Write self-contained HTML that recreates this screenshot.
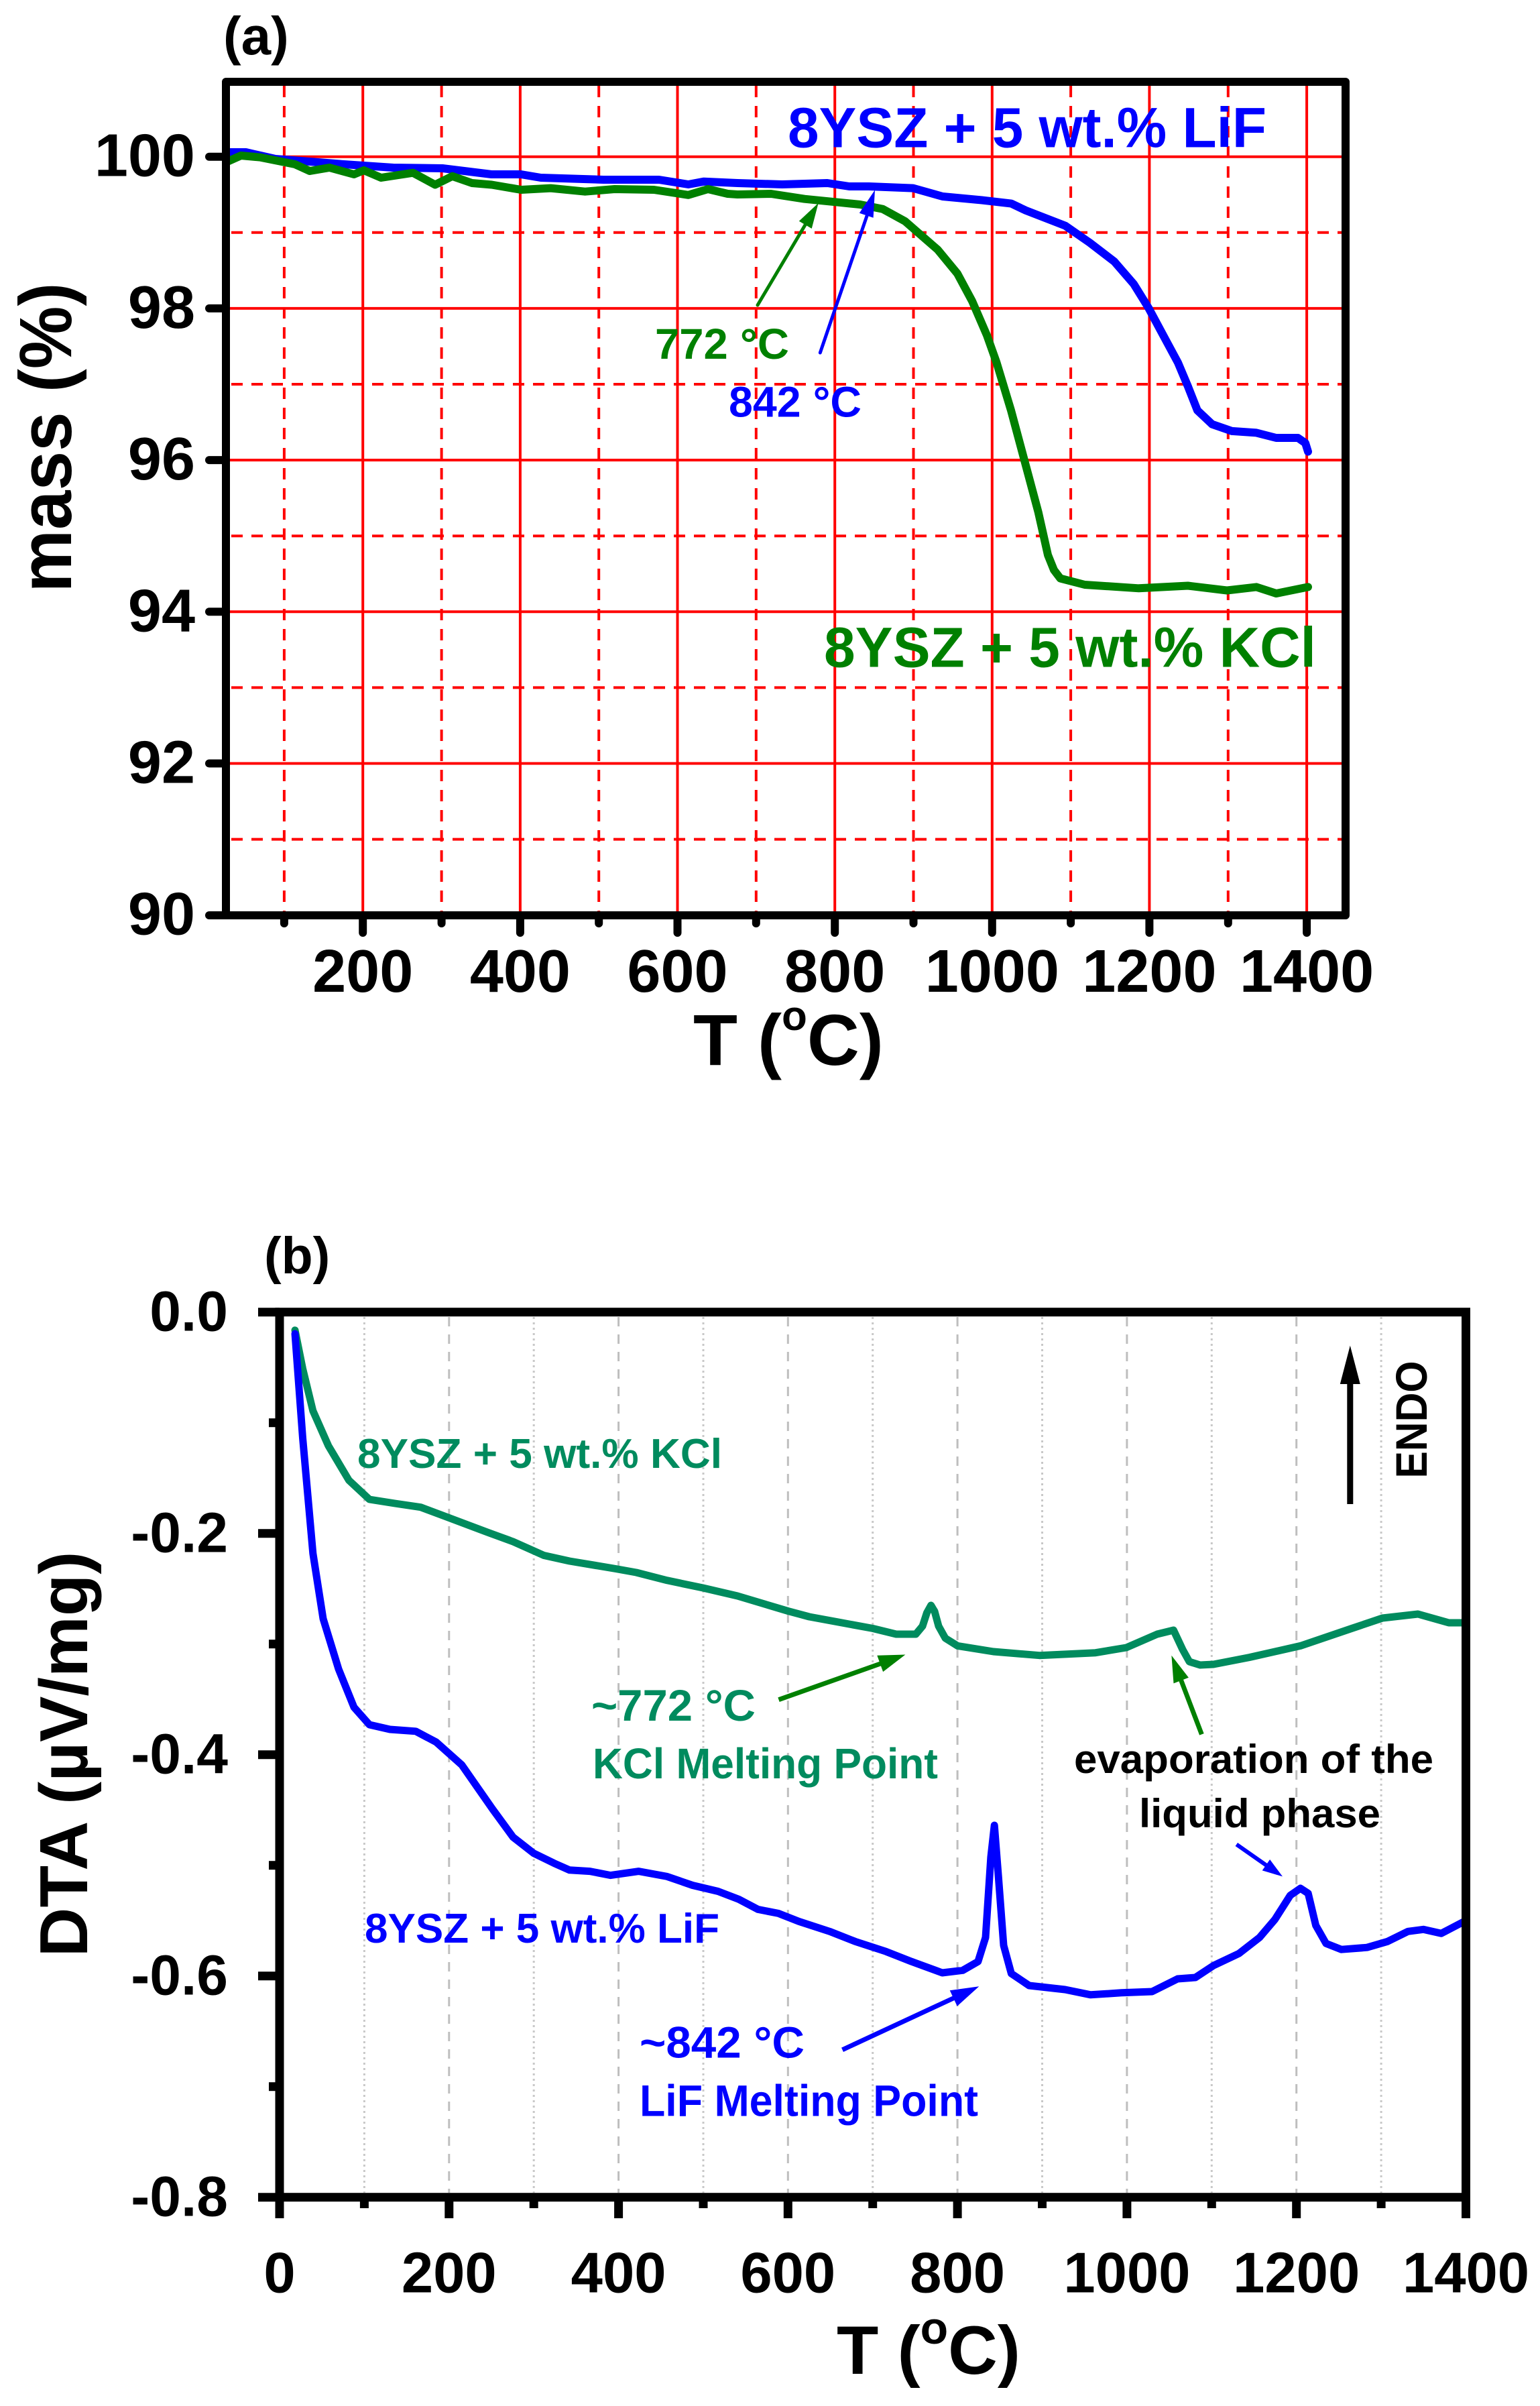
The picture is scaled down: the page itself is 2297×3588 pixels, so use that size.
<!DOCTYPE html>
<html>
<head>
<meta charset="utf-8">
<style>
html,body{margin:0;padding:0;background:#fff;}
svg{display:block;}
text{font-family:"Liberation Sans",Arial,sans-serif;font-weight:bold;}
</style>
</head>
<body>
<svg width="2297" height="3588" viewBox="0 0 2297 3588" xmlns="http://www.w3.org/2000/svg">
<rect width="2297" height="3588" fill="#fff"/>

<!-- ================= PANEL (a) ================= -->
<g stroke="#ff0000" stroke-width="4" fill="none">
  <!-- solid vertical -->
  <line x1="541.2" y1="122" x2="541.2" y2="1365"/>
  <line x1="775.9" y1="122" x2="775.9" y2="1365"/>
  <line x1="1010.5" y1="122" x2="1010.5" y2="1365"/>
  <line x1="1245.2" y1="122" x2="1245.2" y2="1365"/>
  <line x1="1479.8" y1="122" x2="1479.8" y2="1365"/>
  <line x1="1714.4" y1="122" x2="1714.4" y2="1365"/>
  <line x1="1949.1" y1="122" x2="1949.1" y2="1365"/>
  <!-- solid horizontal -->
  <line x1="337" y1="233.7" x2="2007" y2="233.7"/>
  <line x1="337" y1="459.9" x2="2007" y2="459.9"/>
  <line x1="337" y1="686.1" x2="2007" y2="686.1"/>
  <line x1="337" y1="912.3" x2="2007" y2="912.3"/>
  <line x1="337" y1="1138.5" x2="2007" y2="1138.5"/>
</g>
<g stroke="#ff0000" stroke-width="4" fill="none" stroke-dasharray="17 13">
  <line x1="423.9" y1="128" x2="423.9" y2="1365"/>
  <line x1="658.6" y1="128" x2="658.6" y2="1365"/>
  <line x1="893.2" y1="128" x2="893.2" y2="1365"/>
  <line x1="1127.8" y1="128" x2="1127.8" y2="1365"/>
  <line x1="1362.5" y1="128" x2="1362.5" y2="1365"/>
  <line x1="1597.1" y1="128" x2="1597.1" y2="1365"/>
  <line x1="1831.8" y1="128" x2="1831.8" y2="1365"/>
  <line x1="345" y1="346.8" x2="2007" y2="346.8"/>
  <line x1="345" y1="573" x2="2007" y2="573"/>
  <line x1="345" y1="799.2" x2="2007" y2="799.2"/>
  <line x1="345" y1="1025.4" x2="2007" y2="1025.4"/>
  <line x1="345" y1="1251.6" x2="2007" y2="1251.6"/>
</g>

<!-- curves a -->
<polyline fill="none" stroke="#0000ff" stroke-width="12" stroke-linejoin="round" stroke-linecap="round"
 points="337,227 366.7,227 410.7,237 513,245 586.7,250 660,251 733,260 777,260 806.7,265 900,268 983,268 1026.7,275 1050,270.7 1100,273 1166.7,275 1234,273 1266.7,278 1296,278 1362,280.6 1406,293 1464.5,298.5 1508.4,303.6 1530,313.8 1589,336.7 1625.5,362 1662,390 1691,423.5 1713,459 1735,500 1757,540.8 1772,576.5 1786,612 1808,632.7 1837.6,642.9 1874,645.4 1903.5,653 1936,653 1947,660.7 1951,673.5"/>
<polyline fill="none" stroke="#008000" stroke-width="12" stroke-linejoin="round" stroke-linecap="round"
 points="337,242 359.4,232 388.7,234.7 440,245 462,255 491.4,250 528,260 542.7,254 568.4,265 616,257.7 649,275.5 674.7,262.8 704,273 733.4,275.5 777.4,283 821.4,280.6 872.7,285.7 916.7,282 975.4,283 1026.7,290.8 1056,282 1085.4,289 1100,290 1150,289 1200,296.7 1250,301.7 1283,305 1316.7,311.7 1350,330 1369.5,347 1398.7,372.4 1428,408 1450,449 1472,500 1486.5,540.8 1508,612 1530,694 1548.7,763.8 1563,827.6 1572,850 1581.6,862.6 1618,872 1698.6,877.3 1771.8,873.5 1830,880.5 1874,875.4 1903.5,885 1951,875.4"/>

<!-- arrows a -->
<line x1="1130" y1="455" x2="1203" y2="332" stroke="#008000" stroke-width="5" stroke-linecap="round"/>
<polygon points="1220.7,302.7 1210.7,340.9 1191.8,329.7" fill="#008000"/>
<line x1="1223.3" y1="526" x2="1293" y2="322" stroke="#0000ff" stroke-width="5" stroke-linecap="round"/>
<polygon points="1305,283.3 1302.6,324.7 1281.8,317.7" fill="#0000ff"/>

<!-- frame a -->
<rect x="337" y="122" width="1670" height="1243" fill="none" stroke="#000" stroke-width="12" stroke-linejoin="round"/>
<g stroke="#000" stroke-width="12" stroke-linecap="round">
  <line x1="312" y1="233.7" x2="337" y2="233.7"/>
  <line x1="312" y1="459.9" x2="337" y2="459.9"/>
  <line x1="312" y1="686.1" x2="337" y2="686.1"/>
  <line x1="312" y1="912.3" x2="337" y2="912.3"/>
  <line x1="312" y1="1138.5" x2="337" y2="1138.5"/>
  <line x1="312" y1="1365" x2="337" y2="1365"/>
  <line x1="541.2" y1="1365" x2="541.2" y2="1391"/>
  <line x1="775.9" y1="1365" x2="775.9" y2="1391"/>
  <line x1="1010.5" y1="1365" x2="1010.5" y2="1391"/>
  <line x1="1245.2" y1="1365" x2="1245.2" y2="1391"/>
  <line x1="1479.8" y1="1365" x2="1479.8" y2="1391"/>
  <line x1="1714.4" y1="1365" x2="1714.4" y2="1391"/>
  <line x1="1949.1" y1="1365" x2="1949.1" y2="1391"/>
  <line x1="423.9" y1="1365" x2="423.9" y2="1377"/>
  <line x1="658.6" y1="1365" x2="658.6" y2="1377"/>
  <line x1="893.2" y1="1365" x2="893.2" y2="1377"/>
  <line x1="1127.8" y1="1365" x2="1127.8" y2="1377"/>
  <line x1="1362.5" y1="1365" x2="1362.5" y2="1377"/>
  <line x1="1597.1" y1="1365" x2="1597.1" y2="1377"/>
  <line x1="1831.8" y1="1365" x2="1831.8" y2="1377"/>
</g>

<!-- tick labels a -->
<g font-size="90" text-anchor="end" fill="#000">
  <text x="291" y="262.7">100</text>
  <text x="291" y="488.9">98</text>
  <text x="291" y="715.1">96</text>
  <text x="291" y="941.3">94</text>
  <text x="291" y="1167.5">92</text>
  <text x="291" y="1393.7">90</text>
</g>
<g font-size="90" text-anchor="middle" fill="#000">
  <text x="541.2" y="1479">200</text>
  <text x="775.9" y="1479">400</text>
  <text x="1010.5" y="1479">600</text>
  <text x="1245.2" y="1479">800</text>
  <text x="1479.8" y="1479">1000</text>
  <text x="1714.4" y="1479">1200</text>
  <text x="1949.1" y="1479">1400</text>
</g>
<text x="1034" y="1588" font-size="108" fill="#000">T (<tspan font-size="62" dy="-52">o</tspan><tspan dy="52">C)</tspan></text>
<text transform="translate(106,652.5) rotate(-90)" text-anchor="middle" font-size="110" textLength="462" lengthAdjust="spacingAndGlyphs" fill="#000">mass (%)</text>
<text x="333" y="81" font-size="80" fill="#000">(a)</text>

<text x="1175" y="219.4" font-size="84" fill="#0000ff" textLength="714" lengthAdjust="spacingAndGlyphs">8YSZ + 5 wt.% LiF</text>
<text x="1229" y="994.7" font-size="84" fill="#008000" textLength="734" lengthAdjust="spacingAndGlyphs">8YSZ + 5 wt.% KCl</text>
<text x="977" y="535" font-size="64" fill="#008000" textLength="200" lengthAdjust="spacingAndGlyphs">772 °C</text>
<text x="1087" y="621.7" font-size="64" fill="#0000ff" textLength="198" lengthAdjust="spacingAndGlyphs">842 °C</text>

<!-- ================= PANEL (b) ================= -->
<g stroke="#bebebe" stroke-width="3" fill="none" stroke-dasharray="14 12">
  <line x1="669.8" y1="1964" x2="669.8" y2="3270"/>
  <line x1="922.6" y1="1964" x2="922.6" y2="3270"/>
  <line x1="1175.3" y1="1964" x2="1175.3" y2="3270"/>
  <line x1="1428.1" y1="1964" x2="1428.1" y2="3270"/>
  <line x1="1680.9" y1="1964" x2="1680.9" y2="3270"/>
  <line x1="1933.7" y1="1964" x2="1933.7" y2="3270"/>
</g>
<g stroke="#c8c8c8" stroke-width="3" fill="none" stroke-dasharray="3 5">
  <line x1="543.4" y1="1964" x2="543.4" y2="3270"/>
  <line x1="796.2" y1="1964" x2="796.2" y2="3270"/>
  <line x1="1049" y1="1964" x2="1049" y2="3270"/>
  <line x1="1301.7" y1="1964" x2="1301.7" y2="3270"/>
  <line x1="1554.5" y1="1964" x2="1554.5" y2="3270"/>
  <line x1="1807.3" y1="1964" x2="1807.3" y2="3270"/>
  <line x1="2060.1" y1="1964" x2="2060.1" y2="3270"/>
</g>

<!-- curves b -->
<polyline fill="none" stroke="#008b5e" stroke-width="11" stroke-linejoin="round" stroke-linecap="round"
 points="440,1983.7 451.5,2041 466.8,2104 489.8,2156 520.4,2207.5 551,2236 589,2242 627.5,2247.7 665.8,2262 727,2285 765.3,2299 811.2,2319.5 849.5,2328 918.4,2339.5 949,2345 995,2356.8 1048.5,2368 1100,2380 1176,2402.7 1207,2411 1302,2428.5 1336.7,2437 1366,2437 1376,2425 1382.5,2405 1388.6,2394 1394,2403 1400,2425 1410,2443 1428.3,2454.4 1481.7,2463 1550.4,2468.7 1634,2464.7 1680,2457 1726,2437 1750.4,2431 1764,2460 1774,2478 1790,2483 1810,2482 1863.4,2471.6 1939.7,2454.4 2016,2428.5 2062,2413 2115,2407 2161,2420 2184,2420"/>
<polyline fill="none" stroke="#0000ff" stroke-width="11" stroke-linejoin="round" stroke-linecap="round"
 points="440,1989 451.5,2144.4 466.8,2316.6 482,2414 505,2489 528,2546 551,2572 581.6,2579 620,2581.8 650.5,2597.9 688.8,2632 734.7,2697.9 765.3,2739.7 796,2763.7 826.5,2778.6 849.5,2788.8 880,2790.6 910.7,2796.6 952.8,2790.6 995,2798.4 1033,2811.5 1071,2820.5 1102,2832.4 1130.5,2847.4 1161,2853.4 1191.6,2865.4 1237.4,2880.3 1275.6,2895.3 1321.4,2910.2 1359.6,2925.2 1405.4,2942 1436,2938.3 1458.8,2925.2 1470,2889.3 1477.9,2769.6 1483.2,2722 1489.3,2799.6 1497,2901.2 1508.4,2943.1 1535,2961 1588.6,2967 1626.7,2974.8 1672.6,2971.8 1718.4,2970 1756.5,2951 1783,2949 1810,2931.2 1848,2913.2 1878.7,2889.3 1901.6,2862.4 1924.5,2826.5 1939.7,2816 1951.2,2823.5 1962.6,2871.3 1977.9,2898.3 2000.8,2907.2 2039,2904.2 2069.5,2895.3 2100,2880.3 2123,2877.3 2149.7,2883.3 2184,2865.4"/>

<!-- arrows b -->
<line x1="1161.5" y1="2534.7" x2="1316" y2="2480" stroke="#008000" stroke-width="7"/>
<polygon points="1350.4,2467.5 1317.1,2493.1 1308.3,2468.7" fill="#008000"/>
<line x1="1792.4" y1="2586.4" x2="1761" y2="2504" stroke="#008000" stroke-width="7"/>
<polygon points="1747.4,2468.7 1772.9,2501.8 1750.5,2510.4" fill="#008000"/>
<line x1="1256.5" y1="3056.8" x2="1425" y2="2978.5" stroke="#0000ff" stroke-width="7"/>
<polygon points="1460.3,2962.3 1427.7,2991.8 1416.7,2968.2" fill="#0000ff"/>
<line x1="1844.3" y1="2750.5" x2="1890" y2="2782.5" stroke="#0000ff" stroke-width="6"/>
<polygon points="1913,2798.4 1882.7,2789.4 1894.1,2773" fill="#0000ff"/>
<!-- ENDO arrow -->
<line x1="2013.8" y1="2243" x2="2013.8" y2="2058" stroke="#000" stroke-width="9"/>
<polygon points="2013.8,2006.6 1998.8,2064 2028.8,2064" fill="#000"/>

<!-- frame b -->
<rect x="417" y="1956.7" width="1769.5" height="1320" fill="none" stroke="#000" stroke-width="13"/>
<g stroke="#000" stroke-width="13">
  <line x1="385" y1="1956.7" x2="417" y2="1956.7"/>
  <line x1="385" y1="2286.7" x2="417" y2="2286.7"/>
  <line x1="385" y1="2616.7" x2="417" y2="2616.7"/>
  <line x1="385" y1="2946.7" x2="417" y2="2946.7"/>
  <line x1="385" y1="3276.7" x2="417" y2="3276.7"/>
  <line x1="401" y1="2121.7" x2="417" y2="2121.7"/>
  <line x1="401" y1="2451.7" x2="417" y2="2451.7"/>
  <line x1="401" y1="2781.7" x2="417" y2="2781.7"/>
  <line x1="401" y1="3111.7" x2="417" y2="3111.7"/>
  <line x1="417" y1="3276.7" x2="417" y2="3308"/>
  <line x1="669.8" y1="3276.7" x2="669.8" y2="3308"/>
  <line x1="922.6" y1="3276.7" x2="922.6" y2="3308"/>
  <line x1="1175.3" y1="3276.7" x2="1175.3" y2="3308"/>
  <line x1="1428.1" y1="3276.7" x2="1428.1" y2="3308"/>
  <line x1="1680.9" y1="3276.7" x2="1680.9" y2="3308"/>
  <line x1="1933.7" y1="3276.7" x2="1933.7" y2="3308"/>
  <line x1="2186.5" y1="3276.7" x2="2186.5" y2="3308"/>
  <line x1="543.4" y1="3276.7" x2="543.4" y2="3293"/>
  <line x1="796.2" y1="3276.7" x2="796.2" y2="3293"/>
  <line x1="1049" y1="3276.7" x2="1049" y2="3293"/>
  <line x1="1301.7" y1="3276.7" x2="1301.7" y2="3293"/>
  <line x1="1554.5" y1="3276.7" x2="1554.5" y2="3293"/>
  <line x1="1807.3" y1="3276.7" x2="1807.3" y2="3293"/>
  <line x1="2060.1" y1="3276.7" x2="2060.1" y2="3293"/>
</g>

<!-- tick labels b -->
<g font-size="84" text-anchor="end" fill="#000">
  <text x="340" y="1984.7">0.0</text>
  <text x="340" y="2314.7">-0.2</text>
  <text x="340" y="2644.7">-0.4</text>
  <text x="340" y="2974.7">-0.6</text>
  <text x="340" y="3304.7">-0.8</text>
</g>
<g font-size="85" text-anchor="middle" fill="#000">
  <text x="417" y="3418.7">0</text>
  <text x="669.8" y="3418.7">200</text>
  <text x="922.6" y="3418.7">400</text>
  <text x="1175.3" y="3418.7">600</text>
  <text x="1428.1" y="3418.7">800</text>
  <text x="1680.9" y="3418.7">1000</text>
  <text x="1933.7" y="3418.7">1200</text>
  <text x="2186.5" y="3418.7">1400</text>
</g>
<text x="1248" y="3540" font-size="102" fill="#000">T (<tspan font-size="68" dy="-45">o</tspan><tspan dy="45">C)</tspan></text>
<text transform="translate(130,2616) rotate(-90)" text-anchor="middle" font-size="101" textLength="605" lengthAdjust="spacingAndGlyphs" fill="#000">DTA (µV/mg)</text>
<text x="394" y="1899" font-size="77" fill="#000">(b)</text>

<text x="533" y="2189" font-size="62" fill="#008b5e" textLength="544" lengthAdjust="spacingAndGlyphs">8YSZ + 5 wt.% KCl</text>
<text x="544" y="2897" font-size="62" fill="#0000ff" textLength="529" lengthAdjust="spacingAndGlyphs">8YSZ + 5 wt.% LiF</text>
<text x="882" y="2566" font-size="66" fill="#008b5e" textLength="245" lengthAdjust="spacingAndGlyphs">~772 °C</text>
<text x="884" y="2652" font-size="64" fill="#008b5e" textLength="515" lengthAdjust="spacingAndGlyphs">KCl Melting Point</text>
<text x="954" y="3068.7" font-size="66" fill="#0000ff" textLength="246" lengthAdjust="spacingAndGlyphs">~842 °C</text>
<text x="954" y="3155.5" font-size="66" fill="#0000ff" textLength="505" lengthAdjust="spacingAndGlyphs">LiF Melting Point</text>
<text x="1602" y="2643.8" font-size="60" fill="#000" textLength="536" lengthAdjust="spacingAndGlyphs">evaporation of the</text>
<text x="1699" y="2724.8" font-size="60" fill="#000" textLength="360" lengthAdjust="spacingAndGlyphs">liquid phase</text>
<text transform="translate(2128,2117) rotate(-90)" text-anchor="middle" font-size="66" textLength="175" lengthAdjust="spacingAndGlyphs" fill="#000">ENDO</text>
</svg>
</body>
</html>
